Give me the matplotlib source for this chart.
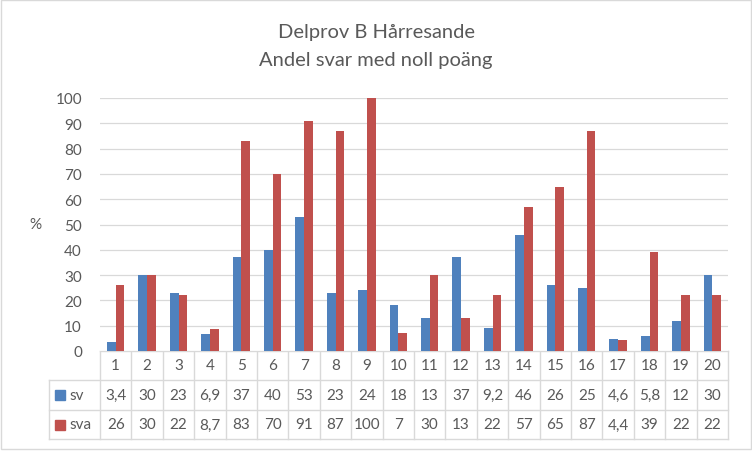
import numpy as np
import matplotlib.pyplot as plt
from matplotlib.patches import Rectangle

plt.rcParams['font.family'] = ['Lato', 'DejaVu Sans']

# data
questions = [str(i) for i in range(1, 21)]
sv = [3.4, 30, 23, 6.9, 37, 40, 53, 23, 24, 18, 13, 37, 9.2, 46, 26, 25, 4.6, 5.8, 12, 30]
sva = [26, 30, 22, 8.7, 83, 70, 91, 87, 100, 7, 30, 13, 22, 57, 65, 87, 4.4, 39, 22, 22]
series_names = ['sv', 'sva']
yticks = list(range(0, 101, 10))

blue = '#4F81BD'
red = '#C0504D'
txt = '#595959'
grid = '#D9D9D9'
fs = 11

W, H = 752, 452
left, right, top, bottom = 100, 728, 99, 352
rows = [352, 381, 411, 440]   # table row edges (pixels from top)
legcol = 49                   # left edge of legend column

fig = plt.figure(figsize=(W / 100, H / 100), dpi=100)

ax = fig.add_axes([left / W, 1 - bottom / H, (right - left) / W, (bottom - top) / H])
x = np.arange(1, len(questions) + 1)
bw = 0.28
ax.bar(x - bw / 2, sv, bw, color=blue, zorder=3)
ax.bar(x + bw / 2, sva, bw, color=red, zorder=3)
ax.set_xlim(0.5, len(questions) + 0.5)
ax.set_ylim(0, 100)
ax.set_yticks(yticks)
ax.set_xticks([])
ax.tick_params(axis='y', length=0, pad=13, labelsize=fs, labelcolor=txt)
ax.grid(axis='y', color=grid, lw=0.9, zorder=0)
for s in ax.spines.values():
    s.set_visible(False)
ax.text(-65 / (right - left), 0.5, '%', transform=ax.transAxes, ha='center', va='center',
        fontsize=fs, color=txt)

# data table drawn in pixel coordinates
tab = fig.add_axes([0, 0, 1, 1], zorder=-1)
tab.set_xlim(0, W)
tab.set_ylim(H, 0)
tab.axis('off')
n = len(questions)
cw = (right - left) / n
edges = [left + i * cw for i in range(n + 1)]
lw = 1.0
tab.plot([left, right], [rows[0], rows[0]], color=grid, lw=lw)
for yy in rows[1:]:
    tab.plot([legcol, right], [yy, yy], color=grid, lw=lw)
tab.plot([legcol, legcol], [rows[1], rows[3]], color=grid, lw=lw)
for ex in edges:
    tab.plot([ex, ex], [rows[0], rows[3]], color=grid, lw=lw)

def fmt(v):
    return f'{v:g}'.replace('.', ',')

centers = [(rows[i] + rows[i + 1]) / 2 for i in range(3)]
for i, q in enumerate(questions):
    cx = edges[i] + cw / 2
    tab.text(cx, centers[0], q, ha='center', va='center', fontsize=fs, color=txt)
    tab.text(cx, centers[1], fmt(sv[i]), ha='center', va='center', fontsize=fs, color=txt)
    tab.text(cx, centers[2], fmt(sva[i]), ha='center', va='center', fontsize=fs, color=txt)

for name, col, cy in zip(series_names, [blue, red], centers[1:]):
    tab.add_patch(Rectangle((55, cy - 5), 10, 10, color=col))
    tab.text(69, cy, name, ha='left', va='center', fontsize=fs, color=txt)

# chart border
tab.add_patch(Rectangle((0.5, 0.5), 750, 449, fill=False, ec=grid, lw=1))

fig.text(376 / W, 1 - 38 / H, 'Delprov B Hårresande', ha='center', va='baseline',
         fontsize=14.5, color=txt)
fig.text(376 / W, 1 - 66 / H, 'Andel svar med noll poäng', ha='center', va='baseline',
         fontsize=14.5, color=txt)

fig.savefig('out.png', dpi=100)
